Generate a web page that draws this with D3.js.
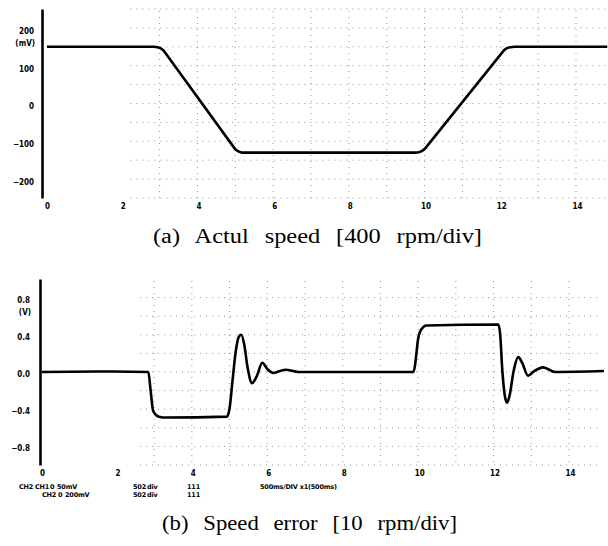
<!DOCTYPE html>
<html>
<head>
<meta charset="utf-8">
<script src="https://cdn.jsdelivr.net/npm/d3@7"></script>
<style>
	body { margin: 0; background: #fff; }
	svg { display: block; }
	.tick text, .unit { font-family: 'DejaVu Sans', sans-serif; font-stretch: condensed; font-weight: bold; font-size: 8px; fill: #000; }
	.info { font-family: 'DejaVu Sans', sans-serif; font-weight: bold; font-size: 6.5px; letter-spacing: -0.2px; fill: #000; }
	.caption { font-family: 'Liberation Serif', 'DejaVu Serif', serif; font-size: 20px; word-spacing: 8px; fill: #000; }
</style>
</head>
<body>
<svg id="chart" width="608" height="546"></svg>
<script>
// time axis (same for both traces)
const timeTicks = [0, 2, 4, 6, 8, 10, 12, 14]
const gridTimes = [3, 4, 5, 6, 7, 8, 9, 10, 11, 12, 13, 14]

// (a) actual speed, mV
const speedTicks = [200, 100, 0, -100, -200]
const speedGrid = [250, 200, 150, 100, 50, 0, -50, -100, -150, -200, -250]
const speedT = [0, 2.82, 2.92, 3.0, 3.08, 4.98, 5.06, 5.14, 5.25, 9.72, 9.82, 9.9, 9.98, 12.08, 12.16, 12.24, 12.35, 14.8]
const speedMv = [150, 150, 149, 146, 140, -122, -127, -130, -130, -130, -129, -126, -120, 142, 147, 149, 150, 150]

// (b) speed error, V
const errTicks = [0.8, 0.4, 0.0, -0.4, -0.8]
const errGrid = [0.8, 0.6, 0.4, 0.2, 0, -0.2, -0.4, -0.6, -0.8, -1.0]
const errT = [0, 1.5, 2.82, 2.88, 2.95, 3.1, 3.3, 4.9, 4.97, 5.05, 5.13, 5.22, 5.28, 5.36, 5.45, 5.57, 5.7, 5.84, 5.98, 6.13, 6.45, 6.8, 9.85, 9.9, 9.97, 10.06, 10.2, 12.1, 12.15, 12.2, 12.27, 12.33, 12.4, 12.5, 12.63, 12.73, 12.89, 13.05, 13.29, 13.6, 14.9]
const errV = [0, 0.005, 0, -0.2, -0.42, -0.48, -0.49, -0.48, -0.4, -0.1, 0.2, 0.38, 0.4, 0.3, 0.05, -0.12, -0.04, 0.1, 0.03, -0.01, 0.025, 0, 0, 0.1, 0.35, 0.46, 0.5, 0.51, 0.4, 0.05, -0.25, -0.33, -0.25, 0, 0.16, 0.1, -0.04, 0.01, 0.05, 0, 0.01]

const svg = d3.select('#chart')

function drawPanel(opts) {
	const g = svg.append('g')
	const x = d3.scaleLinear().domain([0, 14]).range(opts.xRange)
	const y = d3.scaleLinear().domain(opts.yDomain).range(opts.yRange)

	// dotted graticule of the scope
	const grid = g.append('g')
		.attr('stroke', '#555')
		.attr('stroke-width', 1)
		.attr('stroke-dasharray', '1 5')
		.attr('opacity', 0.6)
	grid.selectAll('line.h')
		.data(opts.grid)
		.enter()
		.append('line')
		.attr('class', 'h')
		.attr('x1', x(opts.gridStart))
		.attr('x2', x(14.8))
		.attr('y1', d => y(d))
		.attr('y2', d => y(d))
	grid.selectAll('line.v')
		.data(gridTimes)
		.enter()
		.append('line')
		.attr('class', 'v')
		.attr('x1', d => x(d) - 1)
		.attr('x2', d => x(d) - 1)
		.attr('y1', opts.yRange[1] + 2)
		.attr('y2', opts.yRange[0])

	// left axis
	const yAxis = g.append('g')
		.attr('transform', `translate(${opts.axisX},0)`)
		.call(d3.axisLeft(y).tickValues(opts.ticks).tickSize(0).tickPadding(opts.pad).tickFormat(opts.fmt))
	yAxis.select('.domain').attr('stroke', '#000').attr('stroke-width', 2.6)
	yAxis.selectAll('text').attr('dy', opts.labelDy)

	g.append('text')
		.attr('class', 'unit')
		.attr('x', opts.axisX - opts.pad + 1)
		.attr('y', opts.unitY)
		.attr('text-anchor', 'end')
		.text(opts.unit)

	// bottom time labels
	const xAxis = g.append('g')
		.attr('transform', `translate(0,${opts.xAxisY})`)
		.call(d3.axisBottom(x).tickValues(timeTicks).tickSize(0).tickPadding(2))
	xAxis.select('.domain').remove()

	// trace
	const line = d3.line()
		.x((d, i) => x(opts.t[i]))
		.y(d => y(d))
		.curve(opts.curve)
	g.append('path')
		.datum(opts.v)
		.attr('fill', 'none')
		.attr('stroke', '#000')
		.attr('stroke-width', 2.6)
		.attr('stroke-linejoin', 'round')
		.attr('d', line)

	return { x, y }
}

drawPanel({
	xRange: [47, 577],
	yDomain: [-250, 250],
	yRange: [198, 9],
	axisX: 42,
	pad: 8,
	ticks: speedTicks,
	fmt: d3.format('d'),
	labelDy: '0.68em',
	unit: '(mV)',
	unitY: 46,
	grid: speedGrid,
	gridStart: 2.2,
	xAxisY: 201,
	t: speedT,
	v: speedMv,
	curve: d3.curveLinear
})

drawPanel({
	xRange: [42, 570],
	yDomain: [-1, 1],
	yRange: [465, 279],
	axisX: 40,
	pad: 10,
	ticks: errTicks,
	fmt: d3.format('.1f'),
	labelDy: '0.55em',
	unit: '(V)',
	unitY: 315,
	grid: errGrid,
	gridStart: 2.6,
	xAxisY: 468,
	t: errT,
	v: errV,
	curve: d3.curveMonotoneX
})

// scope settings under panel (b)
const infoLines = [
	{ y: 489, items: [['CH2', 19], ['CH1', 35], ['0', 50], ['50mV', 57], ['502', 133], ['div', 147], ['111', 187], ['500ms/DIV x1(500ms)', 260]] },
	{ y: 497, items: [['CH2', 42], ['0', 58], ['200mV', 65], ['502', 133], ['div', 147], ['111', 187]] }
]
infoLines.forEach(row => {
	svg.selectAll(null)
		.data(row.items)
		.enter()
		.append('text')
		.attr('class', 'info')
		.attr('x', d => d[1])
		.attr('y', row.y)
		.text(d => d[0])
})

// captions
svg.append('text')
	.attr('class', 'caption')
	.attr('x', 153)
	.attr('y', 243)
	.attr('textLength', 329)
	.attr('lengthAdjust', 'spacingAndGlyphs')
	.text('(a) Actul speed [400 rpm/div]')

svg.append('text')
	.attr('class', 'caption')
	.attr('x', 162)
	.attr('y', 530)
	.attr('textLength', 295)
	.attr('lengthAdjust', 'spacingAndGlyphs')
	.text('(b) Speed error [10 rpm/div]')
</script>
</body>
</html>
